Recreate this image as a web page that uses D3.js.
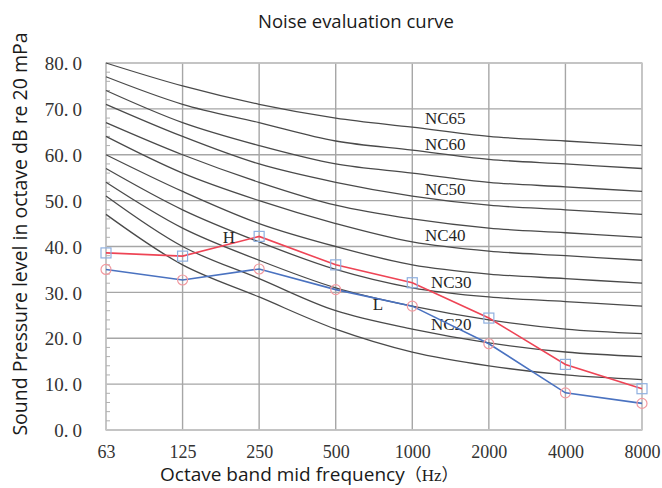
<!DOCTYPE html>
<html><head><meta charset="utf-8">
<script src="https://cdn.jsdelivr.net/npm/d3@7"></script>
<style>
html,body{margin:0;padding:0;background:#fff;}
svg{display:block;}
</style></head>
<body>
<svg id="chart" width="662" height="488"></svg>
<script>
const frequencies = ["63","125","250","500","1000","2000","4000","8000"];
const yTicks = [0,10,20,30,40,50,60,70,80];
const ncNames = ["NC15","NC20","NC25","NC30","NC35","NC40","NC45","NC50","NC55","NC60","NC65"];
const ncValues = [
  [47,36,29,22,17,14,12,11],
  [51,40,33,26,22,19,17,16],
  [54,44,37,31,27,24,22,21],
  [57,48,41,35,31,29,28,27],
  [60,52,45,40,36,34,33,32],
  [64,56,50,45,41,39,38,37],
  [67,60,54,49,46,44,43,42],
  [71,64,58,54,51,49,48,47],
  [74,67,62,58,56,54,53,52],
  [77,71,67,63,61,59,58,57],
  [80,75,71,68,66,64,63,62]
];
const seriesH = [38.6,37.9,42.2,36.0,32.1,24.4,14.3,9.0];
const seriesL = [35.0,32.7,35.1,30.6,27.0,18.8,8.1,5.8];
const ncLabels = ["NC65","NC60","NC50","NC40","NC30","NC20"];
const ncLabelLevels = [68.0,62.3,52.6,42.6,32.3,23.2];

const svg = d3.select("#chart");
const L = 106, R = 642, T = 63, B = 430;
const x = d3.scalePoint().domain(frequencies).range([L, R]);
const y = d3.scaleLinear().domain([0, 80]).range([B, T]);

// title
svg.append("text").attr("x", 258).attr("y", 28)
  .attr("font-family", "'Open Sans', 'Noto Sans', sans-serif").attr("font-size", 18.5)
  .attr("fill", "#1a1a1a").text("Noise evaluation curve");

// gridlines
const g = svg.append("g");
g.selectAll(".hg").data(yTicks).join("line")
  .attr("x1", L).attr("x2", R).attr("y1", d => y(d)).attr("y2", d => y(d))
  .attr("stroke", "#a6a6a6").attr("stroke-width", 1.4);
g.selectAll(".vg").data(frequencies).join("line")
  .attr("x1", d => x(d)).attr("x2", d => x(d)).attr("y1", T).attr("y2", B)
  .attr("stroke", "#a6a6a6").attr("stroke-width", 1.4);
// border
g.append("rect").attr("x", L).attr("y", T).attr("width", R - L).attr("height", B - T)
  .attr("fill", "none").attr("stroke", "#c8c8c8").attr("stroke-width", 1.4);

// minor ticks on left axis
const minor = d3.range(0, 81, 2).filter(v => v % 10 !== 0);
g.selectAll(".mt").data(minor).join("line")
  .attr("x1", L).attr("x2", L + 4).attr("y1", d => y(d)).attr("y2", d => y(d))
  .attr("stroke", "#b0b0b0").attr("stroke-width", 1);

// y axis labels
const yAxis = d3.axisLeft(y).tickValues(yTicks).tickSize(0).tickPadding(0).tickFormat(d3.format(".1f"));
const ya = svg.append("g").attr("transform", `translate(${L - 24},0)`).call(yAxis);
ya.select(".domain").remove();
ya.selectAll("text").each(function(d) {
  const s = d3.format(".1f")(d);
  const t = d3.select(this).text(null);
  t.append("tspan").text(s.slice(0, s.length - 1));
  t.append("tspan").attr("dx", 4).text(s.slice(-1));
}).attr("font-family", "'Liberation Serif', serif").attr("font-size", 19).attr("fill", "#333").attr("dy", "0.35em");

// x axis labels
const xAxis = d3.axisBottom(x).tickSize(0).tickPadding(0);
const xa = svg.append("g").attr("transform", `translate(0,${B + 28})`).call(xAxis);
xa.select(".domain").remove();
xa.selectAll("text").attr("font-family", "'Liberation Serif', serif").attr("font-size", 18).attr("fill", "#333").attr("dy", 0);

// axis titles
svg.append("text").attr("transform", `translate(27,234) rotate(-90)`).attr("text-anchor", "middle")
  .attr("font-family", "'Open Sans', 'Noto Sans', sans-serif").attr("font-size", 19.5).attr("fill", "#1a1a1a")
  .text("Sound Pressure level in octave dB re 20 mPa");
const xt = svg.append("text").attr("x", 160).attr("y", 481)
  .attr("font-family", "'Open Sans', 'Noto Sans', sans-serif").attr("font-size", 19).attr("fill", "#1a1a1a");
xt.append("tspan").text("Octave band mid frequency");
xt.append("tspan").attr("font-family", "'Noto Sans CJK SC', 'Liberation Serif', serif").attr("font-size", 17).text("（");
xt.append("tspan").attr("font-family", "'Liberation Serif', serif").attr("font-size", 17).text("Hz");
xt.append("tspan").attr("font-family", "'Noto Sans CJK SC', 'Liberation Serif', serif").attr("font-size", 17).text("）");

// NC curves
const line = d3.line().x((d, i) => x(frequencies[i])).y(d => y(d)).curve(d3.curveCatmullRom);
svg.append("g").selectAll("path").data(ncValues).join("path")
  .attr("d", line).attr("fill", "none").attr("stroke", "#4a4a4a").attr("stroke-width", 1.3);

// NC labels
svg.append("g").selectAll("text").data(ncLabels).join("text")
  .attr("x", (d, i) => (i >= 4 ? 431 : 425)).attr("y", (d, i) => y(ncLabelLevels[i]) + 6)
  .attr("font-family", "'Liberation Serif', serif").attr("font-size", 17).attr("fill", "#262626")
  .text(d => d);

// data lines
const dline = d3.line().x((d, i) => x(frequencies[i])).y(d => y(d));
svg.append("path").datum(seriesH).attr("d", dline).attr("fill", "none").attr("stroke", "#ee4455").attr("stroke-width", 1.6);
svg.append("path").datum(seriesL).attr("d", dline).attr("fill", "none").attr("stroke", "#4a72c0").attr("stroke-width", 1.6);

svg.append("g").selectAll("rect").data(seriesH).join("rect")
  .attr("x", (d, i) => x(frequencies[i]) - 5).attr("y", d => y(d) - 5)
  .attr("width", 10).attr("height", 10).attr("fill", "none").attr("stroke", "#8fb0e0").attr("stroke-width", 1.2);
svg.append("g").selectAll("circle").data(seriesL).join("circle")
  .attr("cx", (d, i) => x(frequencies[i])).attr("cy", d => y(d)).attr("r", 5)
  .attr("fill", "none").attr("stroke", "#f2999f").attr("stroke-width", 1.2);

// series labels
svg.append("text").attr("x", 229).attr("y", 243).attr("text-anchor", "middle")
  .attr("font-family", "'Liberation Serif', serif").attr("font-size", 17).attr("fill", "#262626").text("H");
svg.append("text").attr("x", 378).attr("y", 310).attr("text-anchor", "middle")
  .attr("font-family", "'Liberation Serif', serif").attr("font-size", 17).attr("fill", "#262626").text("L");
</script>
</body></html>
